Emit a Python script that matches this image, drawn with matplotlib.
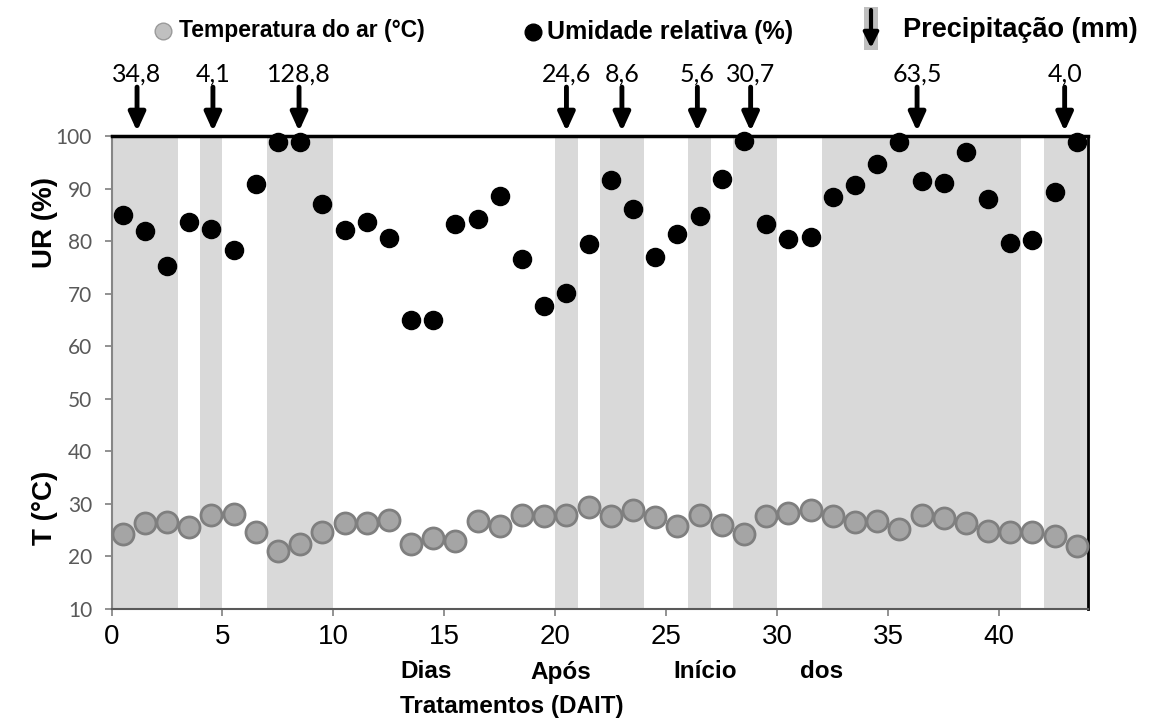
import matplotlib.pyplot as plt
from matplotlib.patches import Rectangle

# Daily data (DAIT)
days = [d + 0.5 for d in range(44)]
rh = [84.9, 82.0, 75.3, 83.6, 82.3, 78.4, 90.9, 98.9, 98.9, 87.1,
      82.1, 83.7, 80.5, 65.0, 65.0, 83.3, 84.2, 88.5, 76.6, 67.6,
      70.2, 79.5, 91.6, 86.2, 77.0, 81.3, 84.7, 91.8, 99.0, 83.2,
      80.4, 80.8, 88.3, 90.6, 94.6, 98.9, 91.4, 91.0, 97.0, 88.1,
      79.7, 80.2, 89.4, 98.9]
temp = [24.2, 26.3, 26.6, 25.6, 27.9, 28.1, 24.7, 21.0, 22.4, 24.7,
        26.3, 26.3, 27.0, 22.4, 23.5, 22.9, 26.7, 25.7, 27.9, 27.6,
        27.9, 29.4, 27.7, 28.9, 27.5, 25.8, 27.8, 26.0, 24.3, 27.7,
        28.2, 28.9, 27.7, 26.6, 26.8, 25.3, 27.8, 27.4, 26.3, 24.9,
        24.6, 24.7, 23.8, 22.0]

# Days with rain (shaded) and rain events (arrows)
rain_days = [0, 1, 2, 4, 7, 8, 9, 20, 22, 23, 26, 28, 29,
             32, 33, 34, 35, 36, 37, 38, 39, 40, 42, 43]
rain_x = [1.15, 4.57, 8.45, 20.5, 23.0, 26.4, 28.8, 36.3, 42.95]
rain_labels = ["34,8", "4,1", "128,8", "24,6", "8,6", "5,6", "30,7", "63,5", "4,0"]

fig = plt.figure(figsize=(11.52, 7.28), dpi=100)
ax = fig.add_axes([0.0968, 0.1635, 0.8476, 0.6497])

ax.bar(rain_days, [90] * len(rain_days), bottom=10, width=1, align='edge',
       color='#d9d9d9', linewidth=0, zorder=1)

ax.scatter(days, rh, s=170, color='black', zorder=3, clip_on=False)
ax.scatter(days, temp, s=230, color='#a5a5a5', edgecolors='#7f7f7f',
           linewidths=2, zorder=3, clip_on=False)

ax.set_xlim(0, 44)
ax.set_ylim(10, 100)
ax.set_xticks(range(0, 41, 5))
ax.set_yticks(range(10, 101, 10))
ax.tick_params(axis='x', labelsize=20, colors='#7f7f7f', labelcolor='black',
               length=5, width=1.2, pad=6)
ax.tick_params(axis='y', labelsize=15, colors='#7f7f7f', labelcolor='#595959',
               length=5, width=1.2, pad=9)
for lab in ax.get_xticklabels():
    lab.set_fontfamily('Liberation Sans')
for lab in ax.get_yticklabels():
    lab.set_fontfamily('Lato')

ax.spines['top'].set_linewidth(2.5)
ax.spines['top'].set_color('black')
ax.spines['right'].set_linewidth(2)
ax.spines['right'].set_color('black')
ax.spines['left'].set_color('#868686')
ax.spines['left'].set_linewidth(1.5)
ax.spines['bottom'].set_color('#595959')
ax.spines['bottom'].set_linewidth(1.5)

# Precipitation arrows
for x, lab in zip(rain_x, rain_labels):
    ax.annotate('', xy=(x, 100.9), xytext=(x, 109.3),
                arrowprops=dict(arrowstyle='-|>,head_length=0.55,head_width=0.25',
                                lw=3.5, color='black', mutation_scale=20,
                                shrinkA=0, shrinkB=0),
                annotation_clip=False)
    ax.text(x, 111.8, lab, ha='center', va='center', fontsize=18,
            family='Lato', clip_on=False)

# Axis labels
fig.text(0.039, 0.695, 'UR (%)', rotation=90, ha='center', va='center',
         fontsize=20, fontweight='bold', family='Liberation Sans')
fig.text(0.039, 0.302, 'T (°C)', rotation=90, ha='center', va='center',
         fontsize=20, fontweight='bold', family='Liberation Sans')
for word, xp in zip(['Dias', 'Após', 'Início', 'dos'], [400, 530, 673, 800]):
    fig.text(xp / 1152, 1 - 672 / 728, word, ha='left', va='center',
             fontsize=17.5, fontweight='bold', family='Liberation Sans')
fig.text(400 / 1152, 1 - 707 / 728, 'Tratamentos (DAIT)', ha='left', va='center',
         fontsize=17.5, fontweight='bold', family='Liberation Sans')

# Legend
fig.add_artist(plt.Line2D([163 / 1152], [1 - 31 / 728], marker='o', markersize=12,
                          color='#c0c0c0', markeredgecolor='#9a9a9a', lw=0))
fig.text(179 / 1152, 1 - 31 / 728, 'Temperatura do ar (°C)', ha='left', va='center',
         fontsize=16.5, fontweight='bold', family='Liberation Sans')
fig.add_artist(plt.Line2D([533 / 1152], [1 - 32 / 728], marker='o', markersize=12,
                          color='black', lw=0))
fig.text(547 / 1152, 1 - 32 / 728, 'Umidade relativa (%)', ha='left', va='center',
         fontsize=18, fontweight='bold', family='Liberation Sans')
fig.add_artist(Rectangle((864 / 1152, 1 - 50 / 728), 14 / 1152, 43 / 728,
                         transform=fig.transFigure, color='#bfbfbf', lw=0))
fig.add_artist(plt.Annotation('', xy=(871 / 1152, 1 - 48 / 728),
                              xytext=(871 / 1152, 1 - 10 / 728),
                              xycoords='figure fraction', textcoords='figure fraction',
                              arrowprops=dict(arrowstyle='-|>,head_length=0.5,head_width=0.25',
                                              lw=3, color='black', mutation_scale=18,
                                              shrinkA=0, shrinkB=0)))
fig.text(903 / 1152, 1 - 30 / 728, 'Precipitação (mm)', ha='left', va='center',
         fontsize=19.5, fontweight='bold', family='Liberation Sans')

plt.savefig('out.png', dpi=100)
plt.close()
